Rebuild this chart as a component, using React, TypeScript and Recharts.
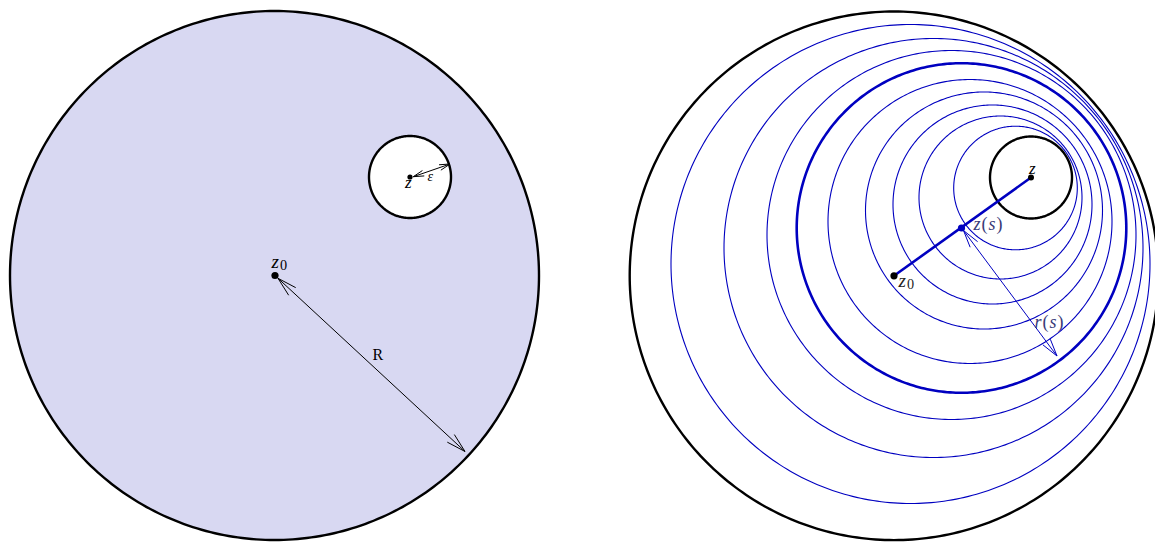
import React from 'react';
import { ComposedChart, Line, Area, XAxis, YAxis, ReferenceDot, Scatter } from 'recharts';

const W = 1155;
const H = 542;

const BLUE = '#0000c0';
const FILL = '#d8d8f2';
const TEXT_BLUE = '#3a3a78';

// Disks: centre (x, y) and radius, in picture units
const outerCircles = [
  { id: 'leftOuter', cx: 274.5, cy: 275.5, r: 264.5, filled: true },
  { id: 'rightOuter', cx: 894, cy: 275.8, r: 264.3, filled: false },
];
const holeCircles = [
  { id: 'leftHole', cx: 410, cy: 177, r: 41 },
  { id: 'rightHole', cx: 1031, cy: 177.5, r: 41 },
];

// Family of circles z(s), r(s) in the right panel
const familyCx = [910.5, 933.5, 951.5, 961.5, 970, 984, 992.5, 1000.5, 1015.5];
const familyCy = [264, 248, 235, 228, 221.5, 210.5, 204.5, 197.5, 188];
const familyR = [239.5, 209.5, 184.5, 164.8, 142, 118.5, 99.5, 81.5, 61.8];
const familyThick = [false, false, false, true, false, false, false, false, false];

// Segment z0 -> z in the right panel
const centreSegment = [
  { x: 894, y: 275.8 },
  { x: 1031, y: 177.5 },
];

// Double-headed arrows
const arrows = [
  { id: 'R', from: [278, 278.3], to: [465, 451.5], head: 20, color: '#000' },
  { id: 'eps', from: [413.3, 176.7], to: [450, 164], head: 11, color: '#000' },
  { id: 'rs', from: [963.5, 230.5], to: [1057, 356], head: 18, color: BLUE },
];

// Points
const dots = [
  { x: 275, y: 275.5, r: 3.6, color: '#000' },
  { x: 410, y: 177, r: 2.6, color: '#000' },
  { x: 894, y: 275.8, r: 3.6, color: '#000' },
  { x: 1031, y: 177.5, r: 3, color: '#000' },
  { x: 961.5, y: 228, r: 3.6, color: BLUE },
];

// Labels: anchor = left end of baseline
const labels = [
  { x: 271.5, y: 267.5, text: 'z0', size: 19, italic: true, color: '#000' },
  { x: 405, y: 188, text: 'z', size: 17, italic: true, color: '#000' },
  { x: 427.5, y: 181, text: 'ε', size: 14, italic: true, color: '#000' },
  { x: 372.5, y: 360, text: 'R', size: 16, italic: false, color: '#000' },
  { x: 1029, y: 173.5, text: 'z', size: 17, italic: true, color: '#000' },
  { x: 973.5, y: 230, text: 'z(s)', size: 18, italic: true, color: TEXT_BLUE },
  { x: 898.5, y: 287, text: 'z0', size: 19, italic: true, color: '#222' },
  { x: 1034.5, y: 327.5, text: 'r(s)', size: 18, italic: true, color: TEXT_BLUE },
];

type Circle = { cx: number; cy: number; r: number };

function ringPoints(c: Circle, n = 360) {
  const pts: { x: number; y: number }[] = [];
  for (let i = 0; i <= n; i++) {
    const t = (2 * Math.PI * i) / n;
    pts.push({ x: c.cx + c.r * Math.cos(t), y: c.cy + c.r * Math.sin(t) });
  }
  return pts;
}

function diskBand(c: Circle, n = 240) {
  const pts: { x: number; band: [number, number] }[] = [];
  for (let i = 0; i <= n; i++) {
    const t = Math.PI - (Math.PI * i) / n;
    const h = c.r * Math.sin(t);
    pts.push({ x: c.cx + c.r * Math.cos(t), band: [c.cy - h, c.cy + h] });
  }
  return pts;
}

function headPoints(tip: number[], from: number[], len: number, angDeg = 15) {
  const dx = tip[0] - from[0];
  const dy = tip[1] - from[1];
  const d = Math.hypot(dx, dy);
  const ux = dx / d;
  const uy = dy / d;
  const a = (angDeg * Math.PI) / 180;
  const rot = (s: number) => {
    const c = Math.cos(s * a);
    const sn = Math.sin(s * a);
    return [ux * c - uy * sn, ux * sn + uy * c];
  };
  const w1 = rot(1);
  const w2 = rot(-1);
  return [
    { x: tip[0] - len * w1[0], y: tip[1] - len * w1[1] },
    { x: tip[0], y: tip[1] },
    { x: tip[0] - len * w2[0], y: tip[1] - len * w2[1] },
  ];
}

const FONT = '"Liberation Serif", "DejaVu Serif", serif';

const LabelShape = (props: any) => {
  const d = props.payload;
  const parts: React.ReactNode[] = [];
  const chars = Array.from(d.text as string);
  chars.forEach((ch: string, i: number) => {
    const isLetter = /[a-zA-Zα-ωε]/.test(ch);
    const isDigit = /[0-9]/.test(ch);
    if (isDigit) {
      parts.push(
        <tspan key={i} fontStyle="normal" fontSize={d.size * 0.75} dy={2} dx={1}>
          {ch}
        </tspan>
      );
    } else {
      parts.push(
        <tspan key={i} fontStyle={d.italic && isLetter ? 'italic' : 'normal'} dx={i > 0 ? 1 : 0}>
          {ch}
        </tspan>
      );
    }
  });
  return (
    <text x={props.cx} y={props.cy} fontFamily={FONT} fontSize={d.size} fill={d.color} textAnchor="start">
      {parts}
    </text>
  );
};

export default function App() {
  const families = familyCx.map((cx, i) => ({ cx, cy: familyCy[i], r: familyR[i], thick: familyThick[i] }));
  return (
    <div style={{ position: 'fixed', left: 0, top: 0, width: W, height: H, background: '#fff' }}>
      <ComposedChart width={W} height={H} margin={{ top: 0, right: 0, bottom: 0, left: 0 }}>
        <XAxis type="number" dataKey="x" domain={[0, W]} hide allowDataOverflow />
        <YAxis type="number" dataKey="y" domain={[0, H]} reversed hide allowDataOverflow />

        {outerCircles
          .filter((c) => c.filled)
          .map((c) => (
            <Area
              key={'fill-' + c.id}
              data={diskBand(c)}
              dataKey="band"
              type="linear"
              stroke="none"
              fill={FILL}
              fillOpacity={1}
              dot={false}
              activeDot={false}
              isAnimationActive={false}
            />
          ))}
        {holeCircles.map((c) => (
          <Area
            key={'hole-' + c.id}
            data={diskBand(c)}
            dataKey="band"
            type="linear"
            stroke="none"
            fill="#fff"
            fillOpacity={1}
            dot={false}
            activeDot={false}
            isAnimationActive={false}
          />
        ))}

        {families.map((c, i) => (
          <Line
            key={'fam-' + i}
            data={ringPoints(c)}
            dataKey="y"
            type="linear"
            stroke={BLUE}
            strokeWidth={c.thick ? 2.6 : 1.1}
            dot={false}
            activeDot={false}
            isAnimationActive={false}
          />
        ))}

        {outerCircles.map((c) => (
          <Line
            key={'ring-' + c.id}
            data={ringPoints(c)}
            dataKey="y"
            type="linear"
            stroke="#000"
            strokeWidth={2.4}
            dot={false}
            activeDot={false}
            isAnimationActive={false}
          />
        ))}
        {holeCircles.map((c) => (
          <Line
            key={'ringh-' + c.id}
            data={ringPoints(c)}
            dataKey="y"
            type="linear"
            stroke="#000"
            strokeWidth={2.4}
            dot={false}
            activeDot={false}
            isAnimationActive={false}
          />
        ))}

        <Line
          data={centreSegment}
          dataKey="y"
          type="linear"
          stroke={BLUE}
          strokeWidth={2.6}
          dot={false}
          activeDot={false}
          isAnimationActive={false}
        />

        {arrows.map((a) => (
          <Line
            key={'shaft-' + a.id}
            data={[
              { x: a.from[0], y: a.from[1] },
              { x: a.to[0], y: a.to[1] },
            ]}
            dataKey="y"
            type="linear"
            stroke={a.color}
            strokeWidth={1}
            dot={false}
            activeDot={false}
            isAnimationActive={false}
          />
        ))}
        {arrows.map((a) => (
          <Line
            key={'headA-' + a.id}
            data={headPoints(a.to, a.from, a.head)}
            dataKey="y"
            type="linear"
            stroke={a.color}
            strokeWidth={1}
            dot={false}
            activeDot={false}
            isAnimationActive={false}
          />
        ))}
        {arrows.map((a) => (
          <Line
            key={'headB-' + a.id}
            data={headPoints(a.from, a.to, a.head)}
            dataKey="y"
            type="linear"
            stroke={a.color}
            strokeWidth={1}
            dot={false}
            activeDot={false}
            isAnimationActive={false}
          />
        ))}

        {dots.map((d, i) => (
          <ReferenceDot key={'dot-' + i} x={d.x} y={d.y} r={d.r} fill={d.color} stroke="none" ifOverflow="visible" />
        ))}

        <Scatter data={labels} dataKey="y" shape={LabelShape} isAnimationActive={false} />
      </ComposedChart>
    </div>
  );
}
